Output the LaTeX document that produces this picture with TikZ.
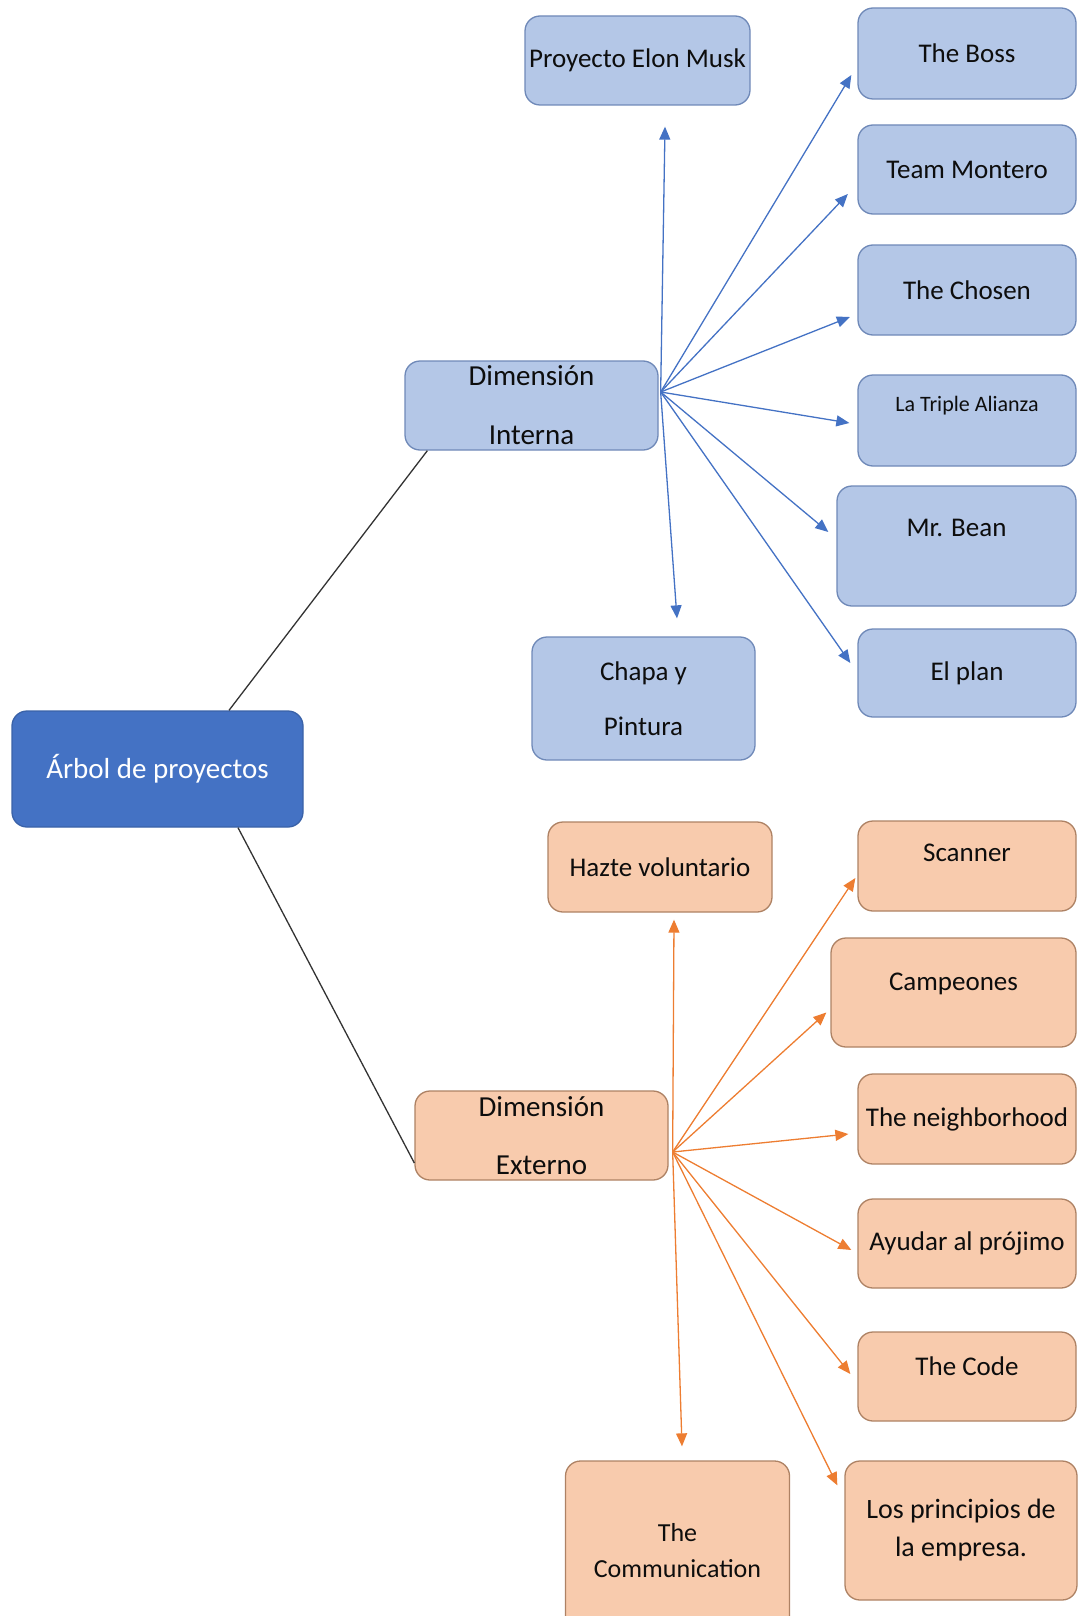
\documentclass[tikz,border=0pt]{standalone}
\usepackage{fontspec}
\setmainfont{Carlito}
\usetikzlibrary{arrows.meta,positioning}

\definecolor{raiz}{HTML}{4472C4}
\definecolor{raizborde}{HTML}{3A62A8}
\definecolor{azulfill}{HTML}{B4C7E7}
\definecolor{azulborde}{HTML}{6F89B8}
\definecolor{narfill}{HTML}{F8CBAD}
\definecolor{narborde}{HTML}{AE8264}
\definecolor{naranja}{HTML}{ED7D31}

\begin{document}
\begin{tikzpicture}[x=1pt,y=-1pt,
  caja/.style={draw, rounded corners=15pt, line width=1.3pt, align=center,
    inner sep=0pt, text=black!95, minimum width=218pt, minimum height=90pt,
    font=\fontsize{27}{33}\selectfont},
  azul/.style={caja, fill=azulfill, draw=azulborde},
  nar/.style={caja, fill=narfill, draw=narborde},
  lift/.style={text depth=#1},
  flechaazul/.style={draw=raiz, line width=1.3pt, -{Triangle[length=13pt,width=11pt]}},
  flechanar/.style={draw=naranja, line width=1.3pt, -{Triangle[length=13pt,width=11pt]}},
  rama/.style={draw=black!80, line width=1.3pt}
]
\useasboundingbox (0,0) rectangle (1077,1616);

% raiz
\node[caja, fill=raiz, draw=raizborde, text=white, minimum width=291pt, minimum height=116pt,
  font=\fontsize{29}{35}\selectfont] (arbol) at (157.5,769) {Árbol de proyectos};

% dimension interna
\node[azul, minimum width=253pt, minimum height=89pt, font=\fontsize{29}{59}\selectfont]
  (interna) at (531.5,405.5) {Dimensión\\Interna};
\node[azul, minimum width=225pt, minimum height=89pt] (musk) at (637.5,60.5) {Proyecto Elon Musk};
\node[azul, minimum height=91pt] (boss) at (967,53.5) {The Boss};
\node[azul, minimum height=89pt] (montero) at (967,169.5) {Team Montero};
\node[azul] (chosen) at (967,290) {The Chosen};
\node[azul, minimum height=91pt, lift=34pt, font=\fontsize{22}{26}\selectfont] (triple) at (967,420.5) {La Triple Alianza};
\node[azul, minimum width=239pt, minimum height=120pt, lift=36pt] (bean) at (956.5,546) {Mr. Bean};
\node[azul, minimum height=88pt] (plan) at (967,673) {El plan};
\node[azul, minimum width=223pt, minimum height=123pt, font=\fontsize{27}{55}\selectfont]
  (chapa) at (643.5,698.5) {Chapa y\\Pintura};

% dimension externo
\node[nar, minimum width=253pt, minimum height=89pt, font=\fontsize{29}{58}\selectfont]
  (externo) at (541.5,1135.5) {Dimensión\\Externo};
\node[nar, minimum width=224pt] (hazte) at (660,867) {Hazte voluntario};
\node[nar, lift=26pt] (scanner) at (967,866) {Scanner};
\node[nar, minimum width=245pt, minimum height=109pt, lift=22pt] (campeones) at (953.5,992.5) {Campeones};
\node[nar] (barrio) at (967,1119) {The neighborhood};
\node[nar, minimum height=89pt] (ayudar) at (967,1243.5) {Ayudar al prójimo};
\node[nar, minimum height=89pt, lift=20pt] (code) at (967,1376.5) {The Code};
\node[nar, minimum width=232pt, minimum height=139pt, font=\fontsize{28}{38}\selectfont]
  (principios) at (961,1530.5) {Los principios de\\la empresa.};
\node[nar, minimum width=224pt, minimum height=179pt, font=\fontsize{26}{36}\selectfont]
  (comunica) at (677.5,1550.5) {The\\Communication};

% ramas
\draw[rama] ([xshift=71.5pt]arbol.north) -- ([xshift=23pt]interna.south west);
\draw[rama] ([xshift=80.5pt]arbol.south) -- ([yshift=-27.5pt]externo.west);

% flechas interna
\coordinate (hubint) at ([xshift=2pt,yshift=13.5pt]interna.east);
\draw[flechaazul] (hubint) -- ([xshift=27.5pt,yshift=-21pt]musk.south);
\draw[flechaazul] (hubint) -- ([xshift=-6pt,yshift=-21.5pt]boss.west);
\draw[flechaazul] (hubint) -- ([xshift=-9.5pt,yshift=-24.5pt]montero.west);
\draw[flechaazul] (hubint) -- ([xshift=-7.5pt,yshift=-27pt]chosen.west);
\draw[flechaazul] (hubint) -- ([xshift=-8pt,yshift=-2.5pt]triple.west);
\draw[flechaazul] (hubint) -- ([xshift=-8pt,yshift=14pt]bean.west);
\draw[flechaazul] (hubint) -- ([xshift=-7pt,yshift=10pt]plan.west);
\draw[flechaazul] (hubint) -- ([xshift=33.5pt,yshift=18pt]chapa.north);

% flechas externo
\coordinate (hubext) at ([xshift=4pt,yshift=-16.5pt]externo.east);
\draw[flechanar] (hubext) -- ([xshift=14pt,yshift=-7pt]hazte.south);
\draw[flechanar] (hubext) -- ([xshift=-2pt,yshift=-12pt]scanner.west);
\draw[flechanar] (hubext) -- ([xshift=-4pt,yshift=-20pt]campeones.west);
\draw[flechanar] (hubext) -- ([xshift=-9pt,yshift=-15pt]barrio.west);
\draw[flechanar] (hubext) -- ([xshift=-6pt,yshift=-6.5pt]ayudar.west);
\draw[flechanar] (hubext) -- ([xshift=-7pt,yshift=2.5pt]code.west);
\draw[flechanar] (hubext) -- ([xshift=-7pt,yshift=-25pt]principios.north west);
\draw[flechanar] (hubext) -- ([xshift=4.5pt,yshift=14pt]comunica.north);
\end{tikzpicture}
\end{document}
